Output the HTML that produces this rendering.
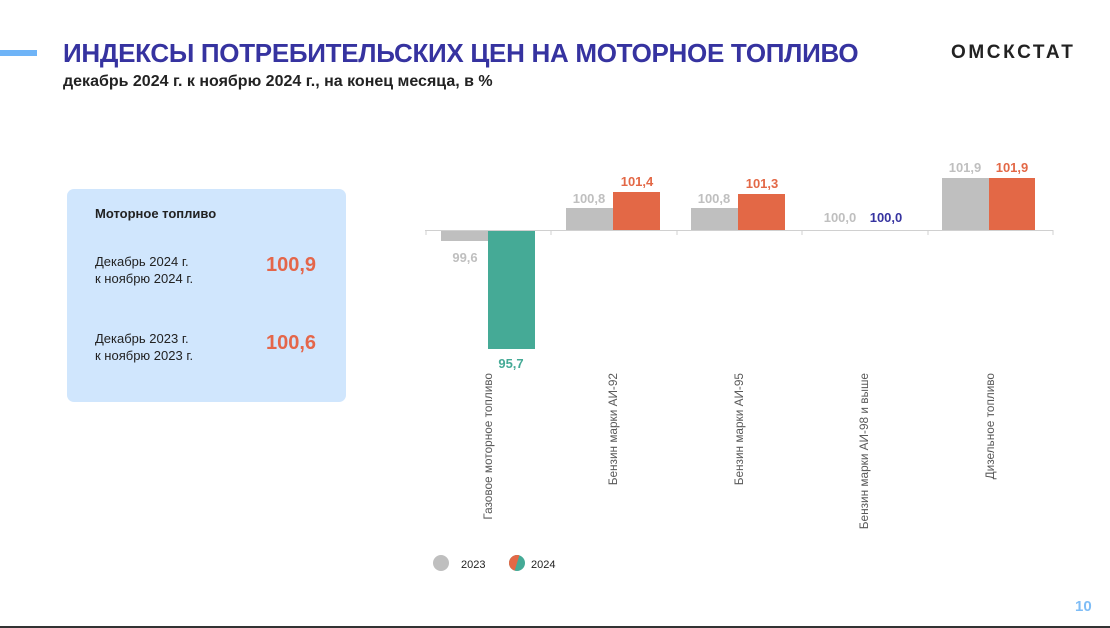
<!DOCTYPE html>
<html><head><meta charset="utf-8"><style>
html,body{margin:0;padding:0;background:#fff;}
body{width:1110px;height:628px;position:relative;overflow:hidden;font-family:"Liberation Sans",Arial,sans-serif;}
.bar{position:absolute;left:0;top:50px;width:37px;height:6px;background:#6fb4f7;}
.title{position:absolute;left:63px;top:38px;font-size:26px;font-weight:bold;color:#3633a0;letter-spacing:-0.3px;white-space:nowrap;}
.sub{position:absolute;left:63px;top:73px;font-size:16px;font-weight:bold;color:#222;white-space:nowrap;}
.logo{position:absolute;left:951px;top:42px;font-size:19px;font-weight:bold;color:#222;letter-spacing:2.6px;}
.box{position:absolute;left:67px;top:189px;width:279px;height:213px;background:#d0e6fd;border-radius:7px;}
.box .h{position:absolute;left:28px;top:17px;font-size:13px;font-weight:bold;color:#222;}
.box .t{position:absolute;left:28px;font-size:13px;color:#222;line-height:17px;}
.box .v{position:absolute;left:199px;font-size:20px;font-weight:bold;color:#e4664a;}
.page{position:absolute;left:1075px;top:598px;font-size:15px;font-weight:bold;color:#7fbdf6;}
.line{position:absolute;left:0;top:626px;width:1110px;height:2px;background:#333;}
</style></head><body>
<div class="bar"></div>
<div class="title">ИНДЕКСЫ ПОТРЕБИТЕЛЬСКИХ ЦЕН НА МОТОРНОЕ ТОПЛИВО</div>
<div class="sub">декабрь 2024 г. к ноябрю 2024 г., на конец месяца, в %</div>
<div class="logo">ОМСКСТАТ</div>
<div class="box">
 <div class="h">Моторное топливо</div>
 <div class="t" style="top:64px">Декабрь 2024 г.<br>к ноябрю 2024 г.</div>
 <div class="v" style="top:65px">100,9</div>
 <div class="t" style="top:141px">Декабрь 2023 г.<br>к ноябрю 2023 г.</div>
 <div class="v" style="top:143px">100,6</div>
</div>
<svg width="1110" height="628" style="position:absolute;left:0;top:0" font-family="Liberation Sans, Arial, sans-serif">
 <g fill="#bfbfbf">
  <rect x="441" y="230" width="47" height="11"/>
  <rect x="566" y="208" width="47" height="22"/>
  <rect x="691" y="208" width="47" height="22"/>
  <rect x="942" y="178" width="47" height="52"/>
 </g>
 <rect x="488" y="230" width="47" height="119" fill="#45aa96"/>
 <g fill="#e36846">
  <rect x="613" y="192" width="47" height="38"/>
  <rect x="738" y="194" width="47" height="36"/>
  <rect x="989" y="178" width="46" height="52"/>
 </g>
 <line x1="425" y1="230.5" x2="1053" y2="230.5" stroke="#d0d0d0" stroke-width="1"/>
 <g stroke="#d0d0d0"><line x1="426" y1="230" x2="426" y2="235"/><line x1="551" y1="230" x2="551" y2="235"/><line x1="677" y1="230" x2="677" y2="235"/><line x1="802" y1="230" x2="802" y2="235"/><line x1="928" y1="230" x2="928" y2="235"/><line x1="1053" y1="230" x2="1053" y2="235"/></g>
 <g font-size="13" font-weight="bold" text-anchor="middle">
  <text x="465" y="262" fill="#bfbfbf">99,6</text>
  <text x="511" y="368" fill="#45aa96">95,7</text>
  <text x="589" y="203" fill="#bfbfbf">100,8</text>
  <text x="637" y="186" fill="#e36846">101,4</text>
  <text x="714" y="203" fill="#bfbfbf">100,8</text>
  <text x="762" y="188" fill="#e36846">101,3</text>
  <text x="840" y="222" fill="#bfbfbf">100,0</text>
  <text x="886" y="222" fill="#3633a0">100,0</text>
  <text x="965" y="172" fill="#bfbfbf">101,9</text>
  <text x="1012" y="172" fill="#e36846">101,9</text>
 </g>
 <g font-size="11.8" fill="#595959" text-anchor="end">
  <text transform="translate(492,373) rotate(-90)">Газовое моторное топливо</text>
  <text transform="translate(617,373) rotate(-90)">Бензин марки АИ-92</text>
  <text transform="translate(743,373) rotate(-90)">Бензин марки АИ-95</text>
  <text transform="translate(868,373) rotate(-90)">Бензин марки АИ-98 и выше</text>
  <text transform="translate(994,373) rotate(-90)">Дизельное топливо</text>
 </g>
 <circle cx="441" cy="563" r="8" fill="#bfbfbf"/>
 <text x="461" y="568" font-size="11" fill="#222">2023</text>
 <clipPath id="c"><circle cx="517" cy="563" r="8"/></clipPath>
 <g clip-path="url(#c)"><rect x="505" y="550" width="25" height="26" fill="#45aa96"/><polygon points="505,550 521,550 513,576 505,576" fill="#e36846"/></g>
 <text x="531" y="568" font-size="11" fill="#222">2024</text>
</svg>
<div class="page">10</div>
<div class="line"></div>
</body></html>
